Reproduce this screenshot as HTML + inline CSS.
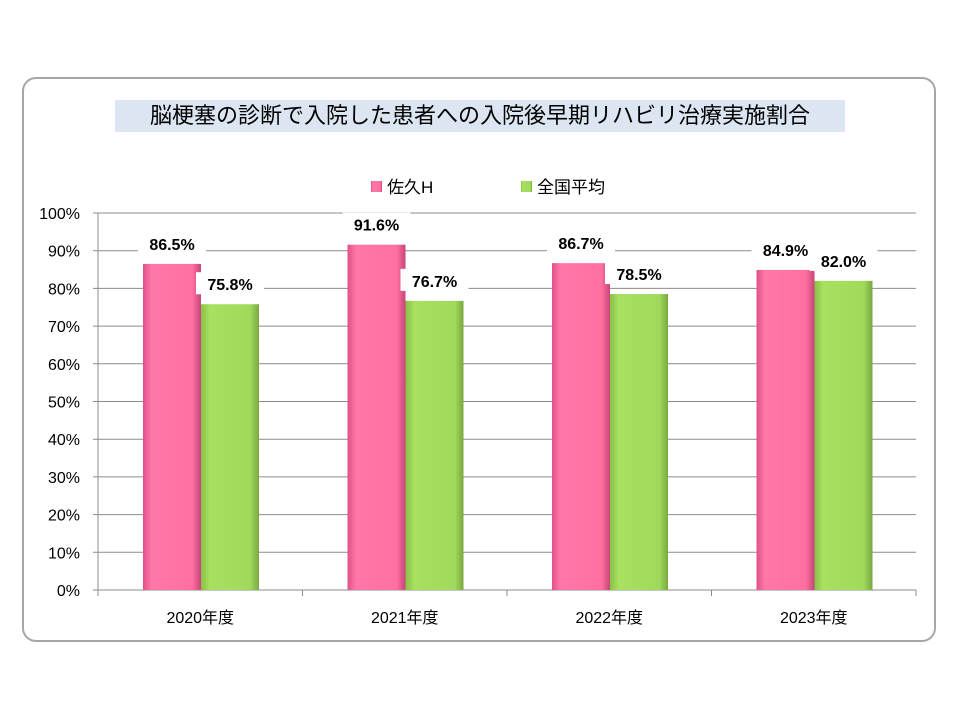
<!DOCTYPE html>
<html><head><meta charset="utf-8"><style>
body{margin:0;width:960px;height:720px;background:#fff;overflow:hidden;font-family:"Liberation Sans","Noto Sans CJK JP",sans-serif}
#frame{position:absolute;left:22px;top:77px;width:914px;height:565px;border:2px solid #a6a6a6;border-radius:14px;box-sizing:border-box}
#title{position:absolute;left:115px;top:100px;width:730px;height:32px;background:#dce6f2;font-size:22px;line-height:32px;text-align:center;color:#000}
</style></head><body>
<div id="frame"></div>
<div id="title">脳梗塞の診断で入院した患者への入院後早期リハビリ治療実施割合</div>
<svg id="chart" width="960" height="720" style="position:absolute;left:0;top:0">
<defs>
<linearGradient id="gp" x1="0" x2="1" y1="0" y2="0"><stop offset="0" stop-color="#e0508a"/><stop offset="0.15" stop-color="#ff78a8"/><stop offset="0.85" stop-color="#ff6fa2"/><stop offset="1" stop-color="#c84478"/></linearGradient>
<linearGradient id="gg" x1="0" x2="1" y1="0" y2="0"><stop offset="0" stop-color="#88c048"/><stop offset="0.15" stop-color="#a8e060"/><stop offset="0.85" stop-color="#a0da5c"/><stop offset="1" stop-color="#78a840"/></linearGradient>
</defs>
</svg>
<script>
const categories=["2020年度","2021年度","2022年度","2023年度"];
const sakuValues=[86.5,91.6,86.7,84.9];
const nationalValues=[75.8,76.7,78.5,82.0];
const yTicks=[0,10,20,30,40,50,60,70,80,90,100];
const NS="http://www.w3.org/2000/svg";
const svg=document.getElementById('chart');
const X0=98,X1=916,Y0=590,Y1=213;
const gw=(X1-X0)/categories.length, bw=58, off=45;
const y=v=>Y0-(v/100)*(Y0-Y1);
const xg=i=>X0+i*gw;
function mk(t,a){const e=document.createElementNS(NS,t);for(const k in a)e.setAttribute(k,a[k]);svg.appendChild(e);return e;}
yTicks.forEach(t=>{
 const g=mk('line',{x1:X0-5,x2:X1,y1:y(t),y2:y(t),stroke:'#8c8c8c','stroke-width':1});
 
 
 const l=mk('text',{x:X0-18,y:y(t)+6,'text-anchor':'end','font-size':16,fill:'#000'});
 l.textContent=t+'%';
 
 
});
mk('line',{x1:X0,x2:X0,y1:Y1,y2:Y0,stroke:'#8c8c8c'});
for(let i=0;i<=categories.length;i++){mk('line',{x1:xg(i),x2:xg(i),y1:Y0,y2:Y0+6,stroke:'#8c8c8c'});}
function label(x,v,name){
 const bg=mk('rect',{x:x-34,y:y(v)-32,width:68,height:22,fill:'#fff'});
 
 
 const t=mk('text',{x:x,y:y(v)-14,'text-anchor':'middle','font-size':16,'font-weight':'bold',fill:'#000'});
 t.textContent=v.toFixed(1)+'%';
 
 
}
categories.forEach((c,i)=>{
 const xp=xg(i)+off, xn=xp+bw;
 const b1=mk('rect',{x:xp,y:y(sakuValues[i]),width:bw,height:Y0-y(sakuValues[i]),fill:'url(#gp)'});
 
 
 const b2=mk('rect',{x:xn,y:y(nationalValues[i]),width:bw,height:Y0-y(nationalValues[i]),fill:'url(#gg)'});
 
 
 label(xp+bw/2,sakuValues[i],'value-label-saku');
 label(xn+bw/2,nationalValues[i],'value-label-national');
 const t=mk('text',{x:xg(i)+gw/2,y:623,'text-anchor':'middle','font-size':16,fill:'#000'});
 t.textContent=c;
 
 
});
[["佐久H",371,'url(#gp)'],["全国平均",521,'url(#gg)']].forEach(([n,x,f])=>{
 const r=mk('rect',{x:x,y:181,width:11,height:11,fill:f});
 
 
 const t=mk('text',{x:x+16,y:193,'font-size':17,fill:'#000'});
 t.textContent=n;
 
 
});
</script>
</body></html>
